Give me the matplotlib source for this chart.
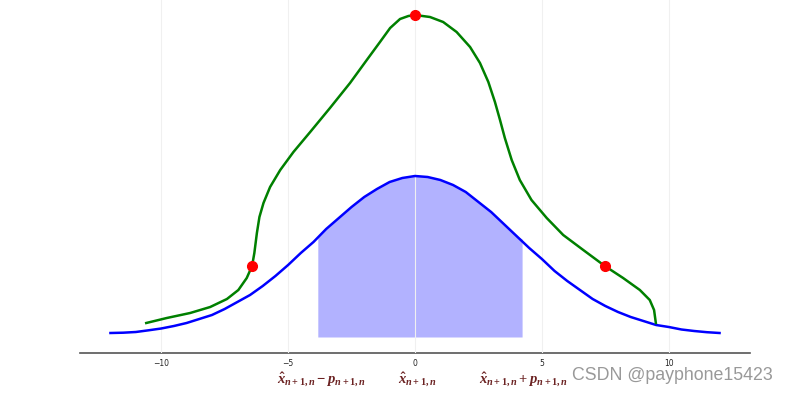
import numpy as np
import matplotlib.pyplot as plt
import matplotlib.transforms as mtransforms

# blue curve (predicted density)
blue_x = [-12, -11.5, -11, -10.5, -10, -9.5, -9, -8.5, -8, -7.5, -7, -6.5, -6, -5.5, -5,
          -4.5, -4, -3.5, -3, -2.5, -2, -1.5, -1, -0.5, 0, 0.5, 1, 1.5, 2, 2.5, 3, 3.5,
          4, 4.5, 5, 5.5, 6, 6.5, 7, 7.5, 8, 8.5, 9, 9.5, 10, 10.5, 11, 11.5, 12]
blue_y = [0.04, 0.043, 0.05, 0.067, 0.085, 0.11, 0.14, 0.18, 0.22, 0.28, 0.35, 0.42, 0.51,
          0.61, 0.72, 0.84, 0.95, 1.08, 1.19, 1.30, 1.40, 1.48, 1.55, 1.59, 1.61, 1.60,
          1.57, 1.52, 1.45, 1.35, 1.25, 1.13, 1.01, 0.89, 0.78, 0.66, 0.56, 0.47, 0.38,
          0.31, 0.25, 0.20, 0.16, 0.12, 0.10, 0.075, 0.06, 0.048, 0.04]

# green curve
green_x = [-10.59, -9.78, -8.86, -8.07, -7.41, -6.96, -6.63, -6.42, -6.33, -6.23, -6.13,
           -5.97, -5.71, -5.31, -4.79, -4.13, -3.35, -2.56, -1.90, -1.38, -0.98, -0.59,
           -0.26, 0.0, 0.59, 1.11, 1.64, 2.17, 2.56, 2.89, 3.15, 3.35, 3.54, 3.81, 4.13,
           4.59, 5.19, 5.84, 6.63, 7.48, 8.20, 8.86, 9.25, 9.42, 9.49]
green_y = [0.14, 0.19, 0.24, 0.30, 0.38, 0.47, 0.59, 0.71, 0.84, 1.04, 1.20,
           1.34, 1.50, 1.67, 1.85, 2.05, 2.29, 2.54, 2.77, 2.95, 3.09, 3.18,
           3.21, 3.22, 3.20, 3.15, 3.05, 2.90, 2.74, 2.55, 2.35, 2.17, 1.99, 1.77, 1.57,
           1.37, 1.19, 1.02, 0.87, 0.71, 0.59, 0.47, 0.37, 0.27, 0.14]

# red points on the green curve
dot_x = [-6.42, 0.0, 7.48]
dot_y = [0.71, 3.22, 0.71]

# shaded interval
fill_lo, fill_hi = -3.83, 4.22
fill_lo_y, fill_hi_y = 0.99, 0.98

labels = [r'$\hat{x}_{n+1,n}-p_{n+1,n}$', r'$\hat{x}_{n+1,n}$', r'$\hat{x}_{n+1,n}+p_{n+1,n}$']
label_x = [fill_lo + 0.15, 0.1, fill_hi + 0.05]

plt.rcParams['mathtext.fontset'] = 'custom'
plt.rcParams['mathtext.rm'] = 'Liberation Serif:bold'
plt.rcParams['mathtext.it'] = 'Liberation Serif:italic:bold'
plt.rcParams['mathtext.bf'] = 'Liberation Serif:bold'

fig = plt.figure(figsize=(7.9, 3.94), dpi=100)
ax = fig.add_axes([80/790, 41/394, 670/790, 353/394])

# fill under the blue curve between the two bounds
fx = [fill_lo] + [x for x in blue_x if fill_lo < x < fill_hi] + [fill_hi]
fy = [fill_lo_y] + [y for x, y in zip(blue_x, blue_y) if fill_lo < x < fill_hi] + [fill_hi_y]
ax.fill_between(fx, 0, fy, color='blue', alpha=0.3, linewidth=0, zorder=1)

ax.plot(blue_x, blue_y, color='blue', lw=1.8, zorder=3, solid_joinstyle='round')
ax.plot(green_x, green_y, color='green', lw=1.8, zorder=3, solid_joinstyle='round')
ax.plot(dot_x, dot_y, 'o', color='red', markersize=7, zorder=4)

ax.set_xlim(-13.2, 13.2)
ax.set_ylim(-0.16, 3.37)
ax.set_xticks([-10, -5, 0, 5, 10])
ax.set_xticklabels(['\u221210', '\u22125', '0', '5', '10'])
ax.set_yticks([])
ax.tick_params(axis='x', length=0, pad=4, labelsize=5.5, colors='#222222')

ax.set_axisbelow(False)
ax.grid(axis='x', color='#f0f0f0', lw=0.8, zorder=2)

for s in ['top', 'right', 'left']:
    ax.spines[s].set_visible(False)
ax.spines['bottom'].set_color('#555555')
ax.spines['bottom'].set_linewidth(1.2)

trans = mtransforms.blended_transform_factory(ax.transData, ax.transAxes)
for lx, lab in zip(label_x, labels):
    ax.text(lx, -0.075, lab, transform=trans, ha='center', va='center',
            fontsize=10.5, color='#6b2222')

fig.text(572/790, 19/394, 'CSDN @payphone15423', ha='left', va='center',
         fontsize=12.8, color='#999999', family='Liberation Sans')

fig.savefig('out.png', dpi=100)
